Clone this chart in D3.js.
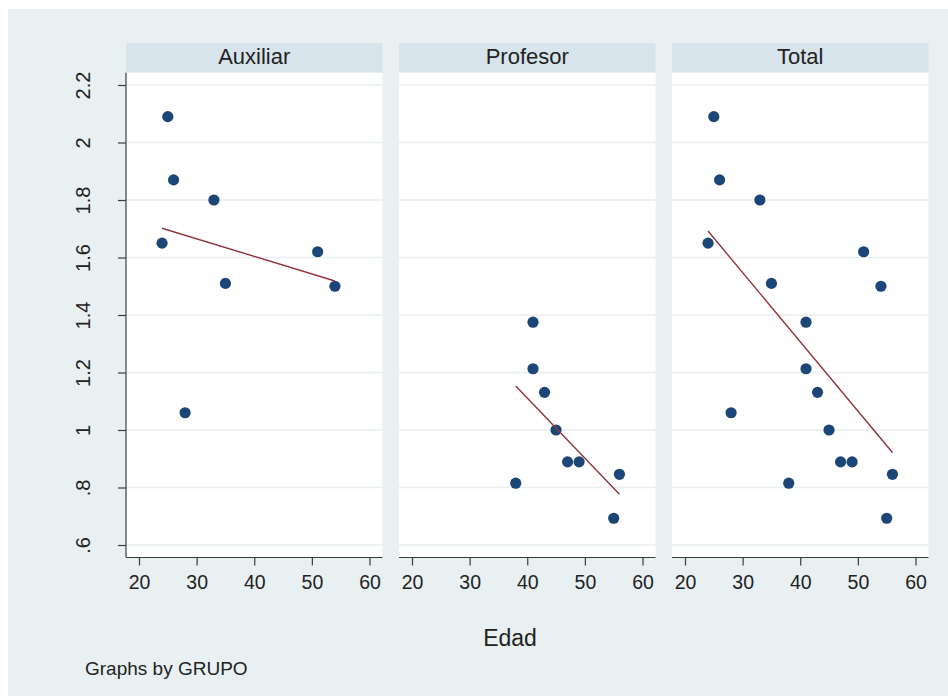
<!DOCTYPE html>
<html>
<head>
<meta charset="utf-8">
<script src="https://cdn.jsdelivr.net/npm/d3@7"></script>
<style>
  html, body { margin: 0; padding: 0; background: #ffffff; }
  svg { display: block; font-family: "Liberation Sans", Arial, Helvetica, sans-serif; }
</style>
</head>
<body>
<svg id="chart" width="948" height="696"></svg>
<script>
// Edad (x) and ratio (y) by GRUPO
const auxEdad  = [25, 26, 33, 24, 51, 35, 54, 28];
const auxValor = [2.09, 1.87, 1.80, 1.65, 1.62, 1.51, 1.50, 1.06];
const profEdad  = [41, 41, 43, 45, 47, 49, 56, 38, 55];
const profValor = [1.375, 1.213, 1.131, 1.0, 0.889, 0.889, 0.846, 0.815, 0.693];

const panelTitles = ["Auxiliar", "Profesor", "Total"];
const xTicks = [20, 30, 40, 50, 60];
const yTicks = [0.6, 0.8, 1.0, 1.2, 1.4, 1.6, 1.8, 2.0, 2.2];
const yTickLabels = [".6", ".8", "1", "1.2", "1.4", "1.6", "1.8", "2", "2.2"];
const xTitle = "Edad";
const note = "Graphs by GRUPO";

const toPoints = (xs, ys) => xs.map((x, i) => ({ x, y: ys[i] }));
const auxPts = toPoints(auxEdad, auxValor);
const profPts = toPoints(profEdad, profValor);
const panels = [
  { title: panelTitles[0], pts: auxPts },
  { title: panelTitles[1], pts: profPts },
  { title: panelTitles[2], pts: auxPts.concat(profPts) }
];

// least-squares line over the observed range
function linFit(pts) {
  const mx = d3.mean(pts, d => d.x), my = d3.mean(pts, d => d.y);
  const sxy = d3.sum(pts, d => (d.x - mx) * (d.y - my));
  const sxx = d3.sum(pts, d => (d.x - mx) ** 2);
  const b = sxy / sxx, a = my - b * mx;
  const [x0, x1] = d3.extent(pts, d => d.x);
  return [{ x: x0, y: a + b * x0 }, { x: x1, y: a + b * x1 }];
}

const C = {
  bg: "#e8f0f2", strip: "#d8e4eb", grid: "#e7eff1", axis: "#3c3c3c",
  text: "#222222", marker: "#1c4677", fit: "#90353b"
};

const svg = d3.select("#chart");
svg.append("rect").attr("x", 8).attr("y", 9).attr("width", 940).attr("height", 687).attr("fill", C.bg);

const panelLeft = [126, 399, 672];
const panelW = 256.5;
const plotTop = 72.7, plotBottom = 557.5, stripTop = 43;

const x = d3.scaleLinear().domain([20, 60]).range([13, 243.5]);
const y = d3.scaleLinear().domain([0.6, 2.2]).range([545, 85]);

panels.forEach((p, i) => {
  const g = svg.append("g").attr("transform", `translate(${panelLeft[i]},0)`);

  // title strip
  g.append("rect").attr("x", 0).attr("y", stripTop).attr("width", panelW).attr("height", plotTop - stripTop).attr("fill", C.strip);
  g.append("text").attr("x", panelW / 2).attr("y", 64).attr("text-anchor", "middle")
    .attr("font-size", 22).attr("fill", C.text).text(p.title);

  // plot region
  g.append("rect").attr("x", 0).attr("y", plotTop).attr("width", panelW).attr("height", plotBottom - plotTop).attr("fill", "#ffffff");

  // horizontal grid
  g.append("g").selectAll("line").data(yTicks).join("line")
    .attr("x1", 0).attr("x2", panelW)
    .attr("y1", d => y(d)).attr("y2", d => y(d))
    .attr("stroke", C.grid).attr("stroke-width", 1.6);

  // x axis
  const xAxis = g.append("g").attr("transform", `translate(0,${plotBottom})`)
    .call(d3.axisBottom(x).tickValues(xTicks).tickFormat(d3.format("d")).tickSize(8).tickSizeOuter(0));
  xAxis.select(".domain").attr("d", `M0,0H${panelW}`).attr("stroke", C.axis).attr("stroke-width", 1.2);
  xAxis.selectAll(".tick line").attr("stroke", C.axis).attr("stroke-width", 1.2);
  xAxis.selectAll(".tick text").attr("font-size", 19.5).attr("fill", C.text).attr("font-family", "Liberation Sans, Arial, sans-serif").attr("dy", "0").attr("y", 31);

  // y axis on the first panel only
  if (i === 0) {
    const yAxis = g.append("g")
      .call(d3.axisLeft(y).tickValues(yTicks).tickFormat((d, k) => yTickLabels[k]).tickSize(8).tickSizeOuter(0));
    yAxis.select(".domain").attr("d", `M0,${plotTop}V${plotBottom}`).attr("stroke", C.axis).attr("stroke-width", 1.2);
    yAxis.selectAll(".tick line").attr("stroke", C.axis).attr("stroke-width", 1.2);
    yAxis.selectAll(".tick text")
      .attr("font-size", 20).attr("fill", C.text).attr("font-family", "Liberation Sans, Arial, sans-serif")
      .attr("x", null).attr("dy", null).attr("text-anchor", "middle")
      .attr("transform", "translate(-36,0) rotate(-90)");
  }

  // points
  g.append("g").selectAll("circle").data(p.pts).join("circle")
    .attr("cx", d => x(d.x)).attr("cy", d => y(d.y)).attr("r", 5.6)
    .attr("fill", C.marker);

  // fitted line
  g.append("path").datum(linFit(p.pts))
    .attr("d", d3.line().x(d => x(d.x)).y(d => y(d.y)))
    .attr("fill", "none").attr("stroke", C.fit).attr("stroke-width", 1.4);
});

svg.append("text").attr("x", 510).attr("y", 645.5).attr("text-anchor", "middle")
  .attr("font-size", 23).attr("fill", C.text).text(xTitle);
svg.append("text").attr("x", 85).attr("y", 675).attr("font-size", 19).attr("fill", C.text).text(note);
</script>
</body>
</html>
